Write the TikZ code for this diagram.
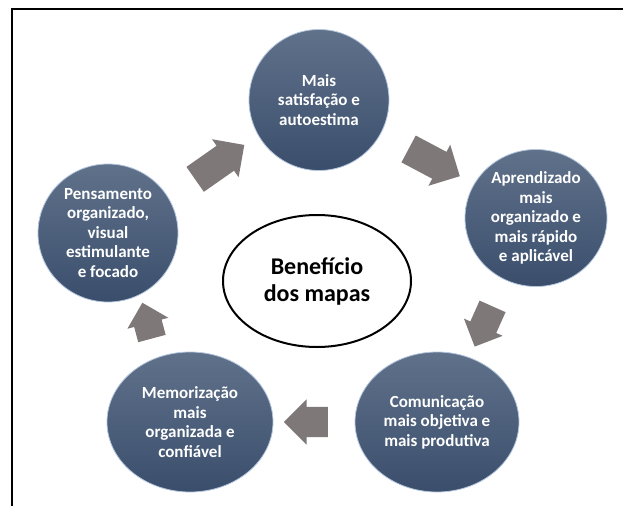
\documentclass[tikz,border=0pt]{standalone}
\usepackage{fontspec}
\setmainfont{Carlito}
\usetikzlibrary{shapes.geometric,shapes.arrows,calc}
\definecolor{bolatopo}{RGB}{96,113,138}
\definecolor{bolabase}{RGB}{58,78,108}
\definecolor{bolaborda}{RGB}{180,198,222}
\definecolor{setacor}{RGB}{126,120,120}
\begin{document}
\begin{tikzpicture}[
  x=1pt, y=-1pt,
  bola/.style={ellipse, top color=bolatopo, bottom color=bolabase, draw=bolaborda,
    line width=0.8pt, text=white, align=center, inner sep=0pt,
    font=\bfseries\fontsize{17}{19.5}\selectfont},
  centro/.style={ellipse, draw, line width=2pt, fill=white, align=center,
    font=\bfseries\fontsize{24}{27}\selectfont},
  seta/.style={single arrow, fill=setacor, inner xsep=0pt, inner ysep=15pt,
    single arrow head extend=8pt}
]
\useasboundingbox (0,0) rectangle (623,506);
\draw[line width=1.2pt] (12,506) -- (12,9) -- (623,9);
\node[centro, minimum width=188pt, minimum height=132pt] (meio) at (317,281) {Benefício\\dos mapas};
\node[bola, minimum width=140pt, minimum height=141pt] (sat) at (319,100) {Mais\\satisfação e\\autoestima};
\node[bola, minimum width=142pt, minimum height=137pt] (apr) at (536,218) {Aprendizado\\mais\\organizado e\\mais rápido\\e aplicável};
\node[bola, minimum width=164pt, minimum height=140pt] (com) at (437,422) {Comunicação\\mais objetiva e\\mais produtiva};
\node[bola, minimum width=166pt, minimum height=140pt] (mem) at (190,422) {Memorização\\mais\\organizada e\\confiável};
\node[bola, minimum width=140pt, minimum height=138pt] (pens) at (108,233) {Pensamento\\organizado,\\visual\\estimulante\\e focado};
\node[seta, rotate=35, minimum height=60pt] (s1) at ($(pens)!0.5!(sat)$) {};
\node[seta, rotate=-28, minimum height=58pt] (s2) at ($(sat)!0.5!(apr)$) {};
\node[seta, rotate=-114, minimum height=44pt, inner ysep=14pt, single arrow head extend=7pt] (s3) at ($(apr)!0.5!(com)$) {};
\node[seta, rotate=180, minimum height=44pt, single arrow head extend=7.5pt] (s4) at ($(com)!0.5!(mem)$) {};
\node[seta, rotate=105, minimum height=37pt, inner ysep=14pt, single arrow head extend=7pt] (s5) at ($(mem)!0.5!(pens)$) {};
\end{tikzpicture}
\end{document}
